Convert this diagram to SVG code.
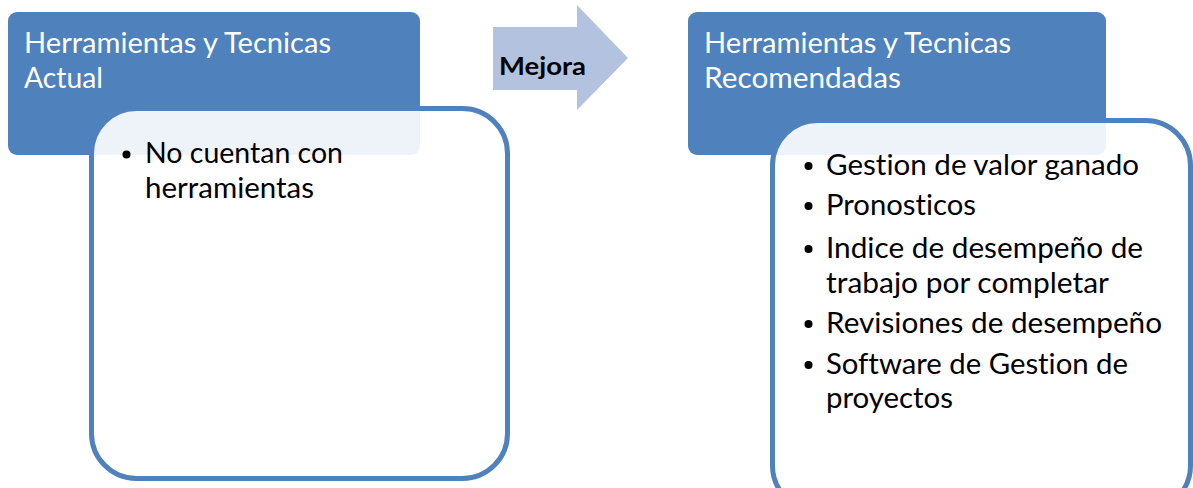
<svg xmlns="http://www.w3.org/2000/svg" width="1193" height="488" viewBox="0 0 1193 488">
  <style>
    .hdr { fill: #4F81BD; }
    .body { fill: #FFFFFF; fill-opacity: 0.9; stroke: #4F81BD; stroke-width: 5; }
    .arrow { fill: #B3C3DF; }
    text { font-family: Lato, "Liberation Sans", sans-serif; font-variant-ligatures: none; }
    .htxt { font-size: 28px; fill: #FFFFFF; }
    .btxt { font-size: 28px; fill: #000000; }
    .atxt { font-size: 24px; font-weight: bold; fill: #000000; }
    .dot { fill: #000000; }
  </style>
  <rect width="1193" height="488" fill="#FFFFFF"/>

  <!-- current tools -->
  <g id="actual">
    <rect class="hdr" x="8" y="12" width="412" height="143" rx="9"/>
    <text class="htxt" x="24" y="53" textLength="307" lengthAdjust="spacingAndGlyphs">Herramientas y Tecnicas</text>
    <text class="htxt" x="24" y="88" textLength="79" lengthAdjust="spacingAndGlyphs">Actual</text>
  </g>
  <g id="actual-items">
    <rect class="body" x="91.5" y="108.5" width="416" height="370" rx="45"/>
    <circle class="dot" cx="126.5" cy="154.5" r="4"/>
    <text class="btxt" x="145" y="163" textLength="198" lengthAdjust="spacingAndGlyphs">No cuentan con</text>
    <text class="btxt" x="145" y="198" textLength="169" lengthAdjust="spacingAndGlyphs">herramientas</text>
  </g>

  <!-- improvement arrow -->
  <g id="mejora">
    <polygon class="arrow" points="493,27 577,27 577,5 628,58 577,110 577,90 493,90"/>
    <text class="atxt" x="499" y="75" textLength="87" lengthAdjust="spacingAndGlyphs">Mejora</text>
  </g>

  <!-- recommended tools -->
  <g id="recomendadas">
    <rect class="hdr" x="688" y="12" width="418" height="143" rx="9"/>
    <text class="htxt" x="704" y="53" textLength="307" lengthAdjust="spacingAndGlyphs">Herramientas y Tecnicas</text>
    <text class="htxt" x="704" y="88" textLength="197" lengthAdjust="spacingAndGlyphs">Recomendadas</text>
  </g>
  <g id="recomendadas-items">
    <rect class="body" x="772.5" y="120.5" width="418" height="390" rx="45"/>
    <circle class="dot" cx="808.5" cy="166" r="4"/>
    <text class="btxt" x="826" y="175" textLength="313" lengthAdjust="spacingAndGlyphs">Gestion de valor ganado</text>
    <circle class="dot" cx="808.5" cy="206" r="4"/>
    <text class="btxt" x="826" y="215" textLength="150" lengthAdjust="spacingAndGlyphs">Pronosticos</text>
    <circle class="dot" cx="808.5" cy="249" r="4"/>
    <text class="btxt" x="826" y="258" textLength="317" lengthAdjust="spacingAndGlyphs">Indice de desempeño de</text>
    <text class="btxt" x="826" y="293" textLength="283" lengthAdjust="spacingAndGlyphs">trabajo por completar</text>
    <circle class="dot" cx="808.5" cy="324" r="4"/>
    <text class="btxt" x="826" y="333" textLength="336" lengthAdjust="spacingAndGlyphs">Revisiones de desempeño</text>
    <circle class="dot" cx="808.5" cy="365" r="4"/>
    <text class="btxt" x="826" y="374" textLength="302" lengthAdjust="spacingAndGlyphs">Software de Gestion de</text>
    <text class="btxt" x="826" y="408" textLength="127" lengthAdjust="spacingAndGlyphs">proyectos</text>
  </g>

  <!-- the block arrow above is the only link between the two panels -->
  <g id="connectors"/>
</svg>
